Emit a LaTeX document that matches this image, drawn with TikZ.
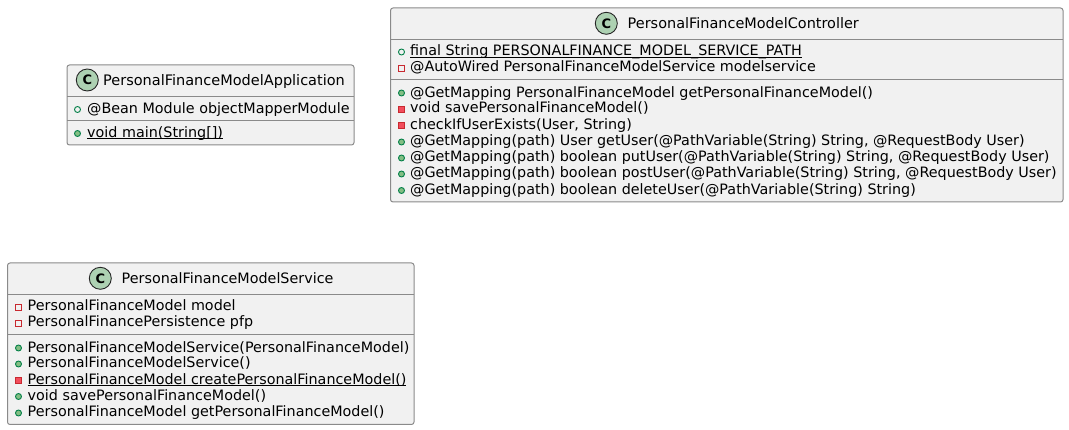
\documentclass[tikz,border=0pt]{standalone}
\usepackage{fontspec}
\setmainfont{DejaVu Sans}
\definecolor{boxfill}{HTML}{F1F1F1}
\definecolor{boxline}{HTML}{8A8A8A}
\definecolor{spotfill}{HTML}{ADD1B2}
\definecolor{publine}{HTML}{038048}
\definecolor{pubfill}{HTML}{84BE84}
\definecolor{privline}{HTML}{C82930}
\definecolor{privfill}{HTML}{F24D5C}
\newcommand{\ul}[1]{\setbox0\hbox{#1}\rlap{\rule[-1.6pt]{\wd0}{1pt}}\box0}
\tikzset{
  x=1pt,y=-1pt,
  classbox/.style={draw=boxline,fill=boxfill,line width=1pt,rounded corners=2.5pt},
  sep/.style={draw=boxline,line width=1pt},
  spot/.style={circle,draw=black!85,fill=spotfill,line width=.9pt,minimum size=22pt,inner sep=0pt,font=\fontsize{13}{13}\selectfont\bfseries},
  txt/.style={anchor=base west,inner sep=0pt,font=\fontsize{14.33}{16}\selectfont,text=black},
  pubo/.style={circle,draw=publine,line width=.9pt,minimum size=6pt,inner sep=0pt},
  pubc/.style={pubo,fill=pubfill},
  privo/.style={rectangle,draw=privline,line width=.9pt,minimum size=6pt,inner sep=0pt},
  privc/.style={privo,fill=privfill},
}
\begin{document}
\begin{tikzpicture}
\useasboundingbox (0,0) rectangle (1069,430);
% Application
\draw[classbox] (67,65) rectangle (354,145);
\draw[sep] (67,97) -- (354,97);
\draw[sep] (67,120.5) -- (354,120.5);
\node[spot] (aspot) at (87.3,80) {C};
\node[txt,font=\fontsize{14.5}{16}\selectfont] (atitle) at (103,85.5) {PersonalFinanceModelApplication};
\node[pubo] (am1) at (77.5,109.5) {};
\node[txt] (at1) at (87,113.5) {@Bean Module objectMapperModule};
\node[pubc] (am2) at (77.5,133.5) {};
\node[txt] (at2) at (87,137.5) {\ul{void main(String[])}};
% Controller
\draw[classbox] (390.5,8) rectangle (1063,202);
\draw[sep] (390.5,39.5) -- (1063,39.5);
\draw[sep] (390.5,79.5) -- (1063,79.5);
\node[spot] (bspot) at (606.3,23.3) {C};
\node[txt,font=\fontsize{14.45}{16}\selectfont] (btitle) at (627.5,28.5) {PersonalFinanceModelController};
\node[pubo] (bm1) at (401.5,52) {};
\node[txt] (bt1) at (410,56) {\ul{final String PERSONALFINANCE\_MODEL\_SERVICE\_PATH}};
\node[privo] (bm2) at (401.5,68) {};
\node[txt] (bt2) at (410,72) {@AutoWired PersonalFinanceModelService modelservice};
\node[pubc] (bm3) at (401.5,93) {};
\node[txt] (bt3) at (410,97.5) {@GetMapping PersonalFinanceModel getPersonalFinanceModel()};
\node[privc] (bm4) at (401.5,109) {};
\node[txt] (bt4) at (410,113) {void savePersonalFinanceModel()};
\node[privc] (bm5) at (401.5,125.5) {};
\node[txt] (bt5) at (410,129.5) {checkIfUserExists(User, String)};
\node[pubc] (bm6) at (401.5,142) {};
\node[txt] (bt6) at (410,146) {@GetMapping(path) User getUser(@PathVariable(String) String, @RequestBody User)};
\node[pubc] (bm7) at (401.5,158) {};
\node[txt] (bt7) at (410,162) {@GetMapping(path) boolean putUser(@PathVariable(String) String, @RequestBody User)};
\node[pubc] (bm8) at (401.5,174) {};
\node[txt] (bt8) at (410,178) {@GetMapping(path) boolean postUser(@PathVariable(String) String, @RequestBody User)};
\node[pubc] (bm9) at (401.5,190.5) {};
\node[txt] (bt9) at (410,194.5) {@GetMapping(path) boolean deleteUser(@PathVariable(String) String)};
% Service
\draw[classbox] (7.5,263) rectangle (414,424.5);
\draw[sep] (7.5,294.5) -- (414,294.5);
\draw[sep] (7.5,334.5) -- (414,334.5);
\node[spot] (cspot) at (100.3,278.3) {C};
\node[txt] (ctitle) at (121.5,284) {PersonalFinanceModelService};
\node[privo] (cm1) at (18.5,307) {};
\node[txt] (ct1) at (27.5,311) {PersonalFinanceModel model};
\node[privo] (cm2) at (18.5,323) {};
\node[txt] (ct2) at (27.5,327) {PersonalFinancePersistence pfp};
\node[pubc] (cm3) at (18.5,348) {};
\node[txt] (ct3) at (27.5,352.5) {PersonalFinanceModelService(PersonalFinanceModel)};
\node[pubc] (cm4) at (18.5,364) {};
\node[txt] (ct4) at (27.5,368) {PersonalFinanceModelService()};
\node[privc] (cm5) at (18.5,380.5) {};
\node[txt] (ct5) at (27.5,384.5) {\ul{PersonalFinanceModel createPersonalFinanceModel()}};
\node[pubc] (cm6) at (18.5,396.5) {};
\node[txt] (ct6) at (27.5,400.5) {void savePersonalFinanceModel()};
\node[pubc] (cm7) at (18.5,413) {};
\node[txt] (ct7) at (27.5,417) {PersonalFinanceModel getPersonalFinanceModel()};
\end{tikzpicture}
\end{document}
